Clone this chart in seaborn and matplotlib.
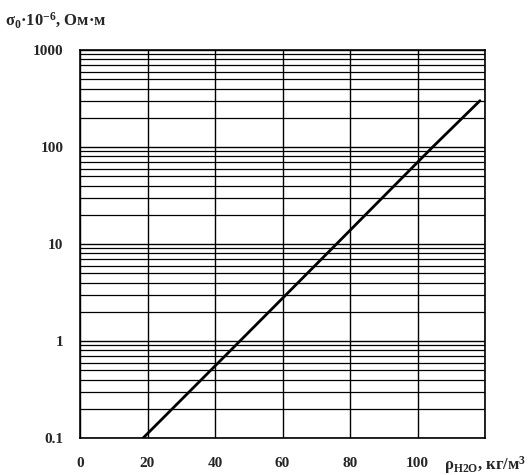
import matplotlib
matplotlib.use("Agg")
import matplotlib.pyplot as plt
import seaborn as sns
import pandas as pd
from matplotlib.ticker import FixedLocator, LogLocator, NullFormatter

sns.set_style("white")
plt.rcParams['font.family'] = ['Liberation Serif', 'DejaVu Serif']
plt.rcParams['mathtext.fontset'] = 'custom'
plt.rcParams['mathtext.rm'] = 'Liberation Serif:bold'
plt.rcParams['mathtext.it'] = 'Liberation Serif:bold'
plt.rcParams['mathtext.bf'] = 'Liberation Serif:bold'
plt.rcParams['mathtext.default'] = 'rm'

# data
rho_h2o = [18.7, 47.4, 76.0, 104.5, 118.5]
sigma0 = [0.1, 1.0, 10.0, 100.0, 300.0]
x_ticks = [0, 20, 40, 60, 80, 100]
y_ticks = [0.1, 1, 10, 100, 1000]
y_tick_labels = ["0.1", "1", "10", "100", "1000"]

df = pd.DataFrame({"rho": rho_h2o, "sigma": sigma0})

fig = plt.figure(figsize=(5.29, 4.75), dpi=100)
ax = fig.add_axes([80/529, 1-438/475, 405/529, 388/475])

sns.lineplot(data=df, x="rho", y="sigma", ax=ax, color="black", linewidth=2.0)

ax.set_yscale("log")
ax.set_xlim(0, 120)
ax.set_ylim(0.1, 1000)
ax.xaxis.set_major_locator(FixedLocator(x_ticks + [120]))
ax.set_xticks(x_ticks + [120])
ax.set_xticklabels([str(v) for v in x_ticks] + [""], fontsize=11, fontweight="bold")
ax.set_yticks(y_ticks)
ax.set_yticklabels(y_tick_labels, fontsize=11, fontweight="bold")
ax.yaxis.set_minor_locator(LogLocator(base=10, subs=range(2, 10)))
ax.yaxis.set_minor_formatter(NullFormatter())
ax.tick_params(axis="both", which="both", length=0)
ax.tick_params(axis="x", pad=14)
ax.tick_params(axis="y", pad=12)

ax.grid(True, which="major", axis="both", color="black", linewidth=1.0)
ax.grid(True, which="minor", axis="y", color="black", linewidth=0.9)
for s in ax.spines.values():
    s.set_color("black")
    s.set_linewidth(1.2)
ax.set_xlabel("")
ax.set_ylabel("")

fig.text(5/529, 1-20/475, r"σ$_0$·10$^{-6}$, Ом·м", fontsize=12, fontweight="bold",
         ha="left", va="center")
fig.text(526/529, 1-465/475, r"ρ$_{H2O}$, кг/м$^3$", fontsize=12, fontweight="bold",
         ha="right", va="center")

fig.savefig("out.png", dpi=100, facecolor="white")
